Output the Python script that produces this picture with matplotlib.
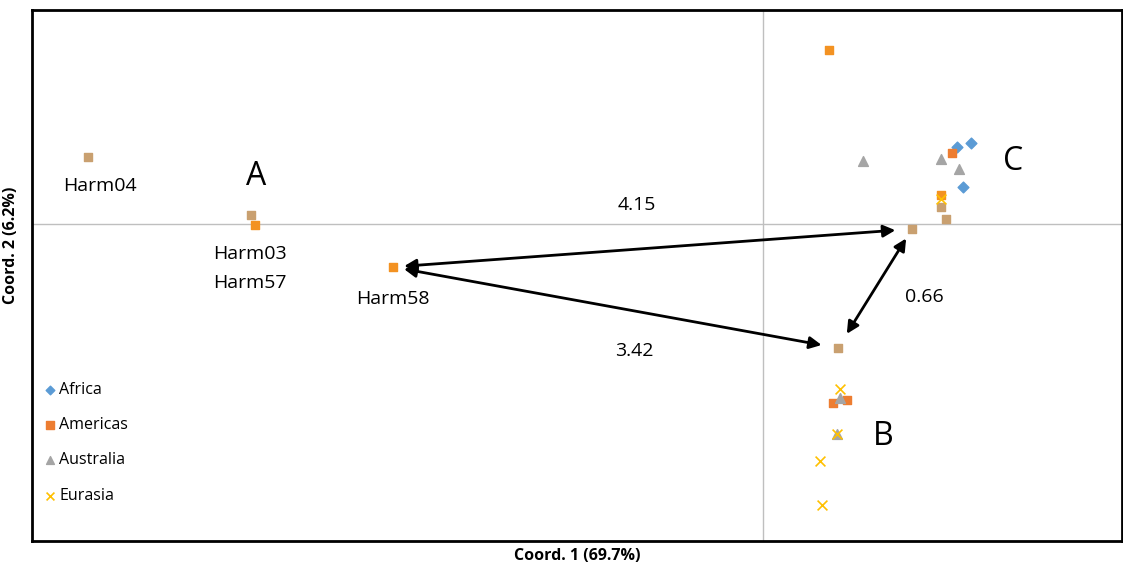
import matplotlib
matplotlib.use('Agg')
import matplotlib.pyplot as plt

plt.rcParams['font.family'] = ['Open Sans', 'DejaVu Sans']

# PCoA coordinates per region
africa_x = [1.664, 1.552, 1.600]
africa_y = [0.648, 0.616, 0.296]

americas_x = [1.512, 0.560, 0.672]
americas_y = [0.568, -1.432, -1.408]

australia_x = [1.424, 1.568, 0.800, 0.616, 0.592]
australia_y = [0.520, 0.440, 0.504, -1.392, -1.680]

eurasia_x = [0.616, 0.456, 0.472, 0.592, 1.424]
eurasia_y = [-1.320, -1.896, -2.248, -1.680, 0.200]

# haplotypes found in Americas and Eurasia
am_eu_x = [-4.064, -2.960, 0.528, 1.424]
am_eu_y = [-0.008, -0.344, 1.392, 0.232]

# haplotypes shared across several regions
shared_x = [-5.400, -4.096, 1.192, 1.464, 1.424, 0.600]
shared_y = [0.536, 0.072, -0.040, 0.040, 0.136, -0.992]

# named haplotypes
names = ['Harm04', 'Harm03', 'Harm57', 'Harm58']
name_x = [-5.400, -4.096, -4.064, -2.960]
name_y = [0.536, 0.072, -0.008, -0.344]
name_off = [(8.6, -20.9), (-0.7, -28.0), (-3.6, -41.8), (0, -23.0)]

# pairwise distances between groups (Harm58, C, B)
dist_from = [(-2.960, -0.344), (-2.960, -0.344), (1.192, -0.040)]
dist_to = [(1.192, -0.040), (0.600, -0.992), (0.600, -0.992)]
dist_text = ['4.15', '3.42', '0.66']

fig = plt.figure(figsize=(11.23, 5.68), dpi=100)
ax = fig.add_axes([32 / 1123, 27 / 568, 1090 / 1123, 531 / 568])
ax.set_xlim(-5.848, 2.872)
ax.set_ylim(-2.536, 1.712)

ax.axhline(0, color='#bfbfbf', lw=1, zorder=0)
ax.axvline(0, color='#bfbfbf', lw=1, zorder=0)

ms = 40
ax.scatter(shared_x, shared_y, marker='s', s=ms, color='#c9a070', zorder=3)
ax.scatter(am_eu_x, am_eu_y, marker='s', s=ms, color='#f39222', zorder=3)
ax.scatter(africa_x, africa_y, marker='D', s=30, color='#5b9bd5', label='Africa', zorder=4)
ax.scatter(americas_x, americas_y, marker='s', s=ms, color='#ed7d31', label='Americas', zorder=4)
ax.scatter(australia_x, australia_y, marker='^', s=50, color='#a5a5a5', label='Australia', zorder=5)
ax.scatter(eurasia_x, eurasia_y, marker='x', s=50, color='#ffc000', linewidths=1.2, label='Eurasia', zorder=6)

# sample names below their markers
for n, x, y, off in zip(names, name_x, name_y, name_off):
    ax.annotate(n, (x, y), xytext=off, textcoords='offset points',
                ha='center', va='center', fontsize=14)

# distance arrows
for (x0, y0), (x1, y1) in zip(dist_from, dist_to):
    ax.annotate('', xy=(x1, y1), xytext=(x0, y0),
                arrowprops=dict(arrowstyle='<|-|>', color='black', lw=2,
                                mutation_scale=18, shrinkA=8, shrinkB=12))

ax.text(-1.01, 0.15, dist_text[0], fontsize=14, ha='center', va='center')
ax.text(-1.03, -1.02, dist_text[1], fontsize=14, ha='center', va='center')
ax.text(1.29, -0.58, dist_text[2], fontsize=14, ha='center', va='center')

# group labels
ax.text(-4.056, 0.38, 'A', fontsize=23, ha='center', va='center')
ax.text(0.96, -1.70, 'B', fontsize=23, ha='center', va='center')
ax.text(2.00, 0.50, 'C', fontsize=23, ha='center', va='center')

ax.set_xticks([])
ax.set_yticks([])
for s in ax.spines.values():
    s.set_linewidth(2)

ax.set_xlabel('Coord. 1 (69.7%)', fontsize=11.5, fontweight='bold', labelpad=5)
ax.set_ylabel('Coord. 2 (6.2%)', fontsize=11.5, fontweight='bold')
ax.yaxis.set_label_coords(-0.012, 0.556)

ax.legend(loc='lower left', bbox_to_anchor=(0.0, 0.052), frameon=False,
          fontsize=11.5, handletextpad=0.1, labelspacing=1.21,
          handlelength=1.0, markerscale=0.8, borderaxespad=0.2)

fig.savefig('out.png', dpi=100)
